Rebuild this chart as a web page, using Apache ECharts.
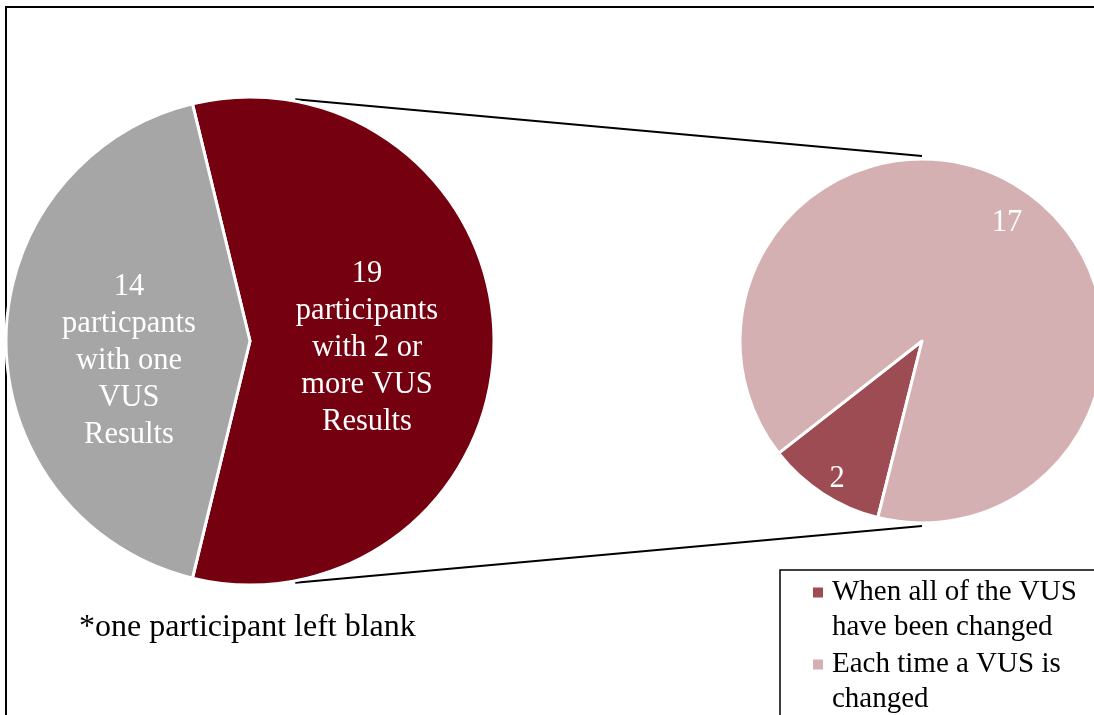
<!DOCTYPE html>
<html>
<head>
<meta charset="utf-8">
<script src="https://cdn.jsdelivr.net/npm/echarts@6/dist/echarts.min.js"></script>
<style>
  html, body { margin: 0; padding: 0; background: #fff; }
  #chart { width: 1094px; height: 715px; }
</style>
</head>
<body>
<div id="chart"></div>
<script>
// Participants split by how many VUS results they received
const groupNames = ['2 or more VUS results', 'One VUS result'];
const groupCounts = [19, 14];
const groupLabels = [
  'participants\nwith 2 or\nmore VUS\nResults',
  'particpants\nwith one\nVUS\nResults'
];

// Preference within the "2 or more" group
const detailNames = ['When all of the VUS\nhave been changed', 'Each time a VUS is\nchanged'];
const detailCounts = [2, 17];

const footnote = '*one participant left blank';

// Layout and styling
const SERIF = '"Liberation Serif", "Times New Roman", serif';
const groupColors = ['#75000F', '#A6A6A6'];
const detailColors = ['#9E4C54', '#D4B0B3'];
const mainCenter = [250, 341], mainRadius = 244;
const subCenter = [922, 341], subRadius = 182;
const subMidAngle = 237;          // direction of the small slice in the detail pie
const connectorAngle = 79.4;      // where connector lines leave the main pie
// extra space above each label block (pushes the text down a little)
const groupLabelGap = [14, 40];
const detailLabelGap = [14, 26];
// horizontal nudge of the main pie labels: [right pad, left pad]
const groupLabelPad = [[0, 16, 0, 0], [0, 0, 0, 8]];

const groupTotal = groupCounts.reduce((a, b) => a + b, 0);
const detailTotal = detailCounts.reduce((a, b) => a + b, 0);
// main pie: first slice centred on the right-hand side
const mainStart = 180 * groupCounts[0] / groupTotal;
// detail pie: first slice centred on subMidAngle
const subStart = subMidAngle + 180 * detailCounts[0] / detailTotal;

const rad = connectorAngle * Math.PI / 180;
const lx = mainCenter[0] + (mainRadius + 2) * Math.cos(rad);
const lyTop = mainCenter[1] - (mainRadius + 2) * Math.sin(rad);
const lyBot = mainCenter[1] + (mainRadius + 2) * Math.sin(rad);
const rx = subCenter[0];
const ryTop = subCenter[1] - subRadius - 3;
const ryBot = subCenter[1] + subRadius + 3;

const labelText = { color: '#fff', fontSize: 30.5, lineHeight: 37, fontFamily: SERIF };
const gapStyle = h => ({ fontSize: 1, lineHeight: h, height: h });

const chart = echarts.init(document.getElementById('chart'), null, { renderer: 'canvas' });

chart.setOption({
  backgroundColor: '#fff',
  animation: false,
  title: {
    text: footnote,
    left: 79,
    top: 612,
    padding: 0,
    textStyle: { fontSize: 32, fontWeight: 'normal', fontFamily: SERIF, color: '#000' }
  },
  legend: {
    data: detailNames.map(n => ({ name: n })),
    orient: 'vertical',
    left: 780,
    top: 570,
    height: 400,
    padding: [5, 40, 12, 33],
    borderColor: '#000',
    borderWidth: 1.5,
    backgroundColor: '#fff',
    itemWidth: 14,
    itemHeight: 60,
    itemGap: 2,
    // square marker aligned with the first text line, with room before the text
    icon: 'path://M0,0h0.01v0.01h-0.01z M0,7.5h10v10h-10z M14,60h0.01v0.01h-0.01z',
    itemStyle: { borderWidth: 0 },
    selectedMode: false,
    textStyle: { fontSize: 29, lineHeight: 35, color: '#000', fontFamily: SERIF }
  },
  graphic: [
    {
      type: 'rect',
      silent: true,
      shape: { x: 6, y: 7, width: 1200, height: 800 },
      style: { fill: 'none', stroke: '#000', lineWidth: 2 }
    },
    {
      type: 'line',
      silent: true,
      shape: { x1: lx, y1: lyTop, x2: rx, y2: ryTop },
      style: { stroke: '#000', lineWidth: 2 }
    },
    {
      type: 'line',
      silent: true,
      shape: { x1: lx, y1: lyBot, x2: rx, y2: ryBot },
      style: { stroke: '#000', lineWidth: 2 }
    }
  ],
  series: [
    {
      type: 'pie',
      center: mainCenter,
      radius: [0, mainRadius],
      startAngle: mainStart,
      clockwise: true,
      silent: true,
      emphasis: { disabled: true },
      itemStyle: { borderColor: '#fff', borderWidth: 3 },
      label: {
        show: true,
        position: 'inside',
        formatter: p => '{g' + p.dataIndex + '| }\n{t' + p.dataIndex + '|' + p.value + '\n' + groupLabels[p.dataIndex] + '}',
        rich: {
          t0: Object.assign({ padding: groupLabelPad[0] }, labelText),
          t1: Object.assign({ padding: groupLabelPad[1] }, labelText),
          g0: gapStyle(groupLabelGap[0]),
          g1: gapStyle(groupLabelGap[1])
        }
      },
      labelLine: { show: false },
      data: groupNames.map((n, i) => ({
        name: n,
        value: groupCounts[i],
        itemStyle: { color: groupColors[i] }
      }))
    },
    {
      type: 'pie',
      center: subCenter,
      radius: [0, subRadius],
      startAngle: subStart,
      clockwise: true,
      silent: true,
      emphasis: { disabled: true },
      itemStyle: { borderColor: '#fff', borderWidth: 3 },
      label: { show: false },
      labelLine: { show: false },
      data: detailNames.map((n, i) => ({
        name: n,
        value: detailCounts[i],
        itemStyle: { color: detailColors[i] }
      }))
    },
    {
      // value labels of the detail pie, placed near its rim
      type: 'pie',
      center: subCenter,
      radius: [124, subRadius],
      startAngle: subStart,
      clockwise: true,
      silent: true,
      emphasis: { disabled: true },
      itemStyle: { color: 'rgba(0,0,0,0)', borderWidth: 0 },
      label: {
        show: true,
        position: 'inside',
        formatter: p => '{g' + p.dataIndex + '| }\n{t|' + p.value + '}',
        rich: {
          t: labelText,
          g0: gapStyle(detailLabelGap[0]),
          g1: gapStyle(detailLabelGap[1])
        }
      },
      labelLine: { show: false },
      data: detailNames.map((n, i) => ({ name: n, value: detailCounts[i] }))
    }
  ]
});
</script>
</body>
</html>
